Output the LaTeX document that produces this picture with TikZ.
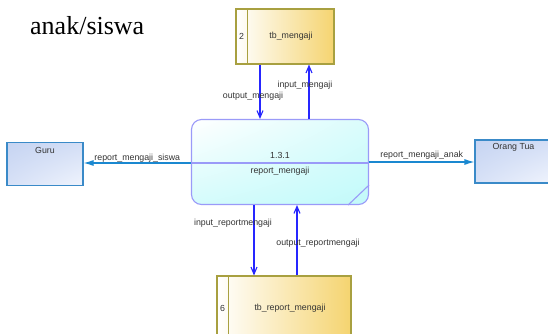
\documentclass[tikz,border=0pt]{standalone}
\usepackage{fontspec}
\setmainfont{Liberation Serif}
\setsansfont{Liberation Sans}
\usepackage{tikz}
\usetikzlibrary{arrows.meta,positioning,calc,shadings}
\definecolor{storeedge}{HTML}{A8A040}
\definecolor{storefill}{HTML}{F5D470}
\definecolor{procedge}{HTML}{9A9AF8}
\definecolor{procfill}{HTML}{C2FAFA}
\definecolor{entedge}{HTML}{3A8AC8}
\definecolor{entfillA}{HTML}{C6D4F2}
\definecolor{entfillB}{HTML}{F0F4FD}
\definecolor{flowblue}{HTML}{2626FF}
\definecolor{reportblue}{HTML}{1A88D0}
\definecolor{txtgray}{HTML}{333333}

\begin{document}
\begin{tikzpicture}[x=1pt,y=-1pt]
        \tikzset{Store/.style={draw=storeedge, line width=1.1pt, left color=white, right color=storefill, inner sep=0pt}}
        \tikzset{Entity/.style={draw=entedge, line width=1.1pt, upper left=entfillA, upper right=entfillA!70!entfillB, lower left=entfillA!60!entfillB, lower right=entfillB, inner sep=0pt, minimum height=43pt}}
        \tikzset{Process/.style={draw=procedge, line width=1.1pt, rounded corners=10pt, upper left=white, upper right=procfill!60!white, lower left=procfill!70!white, lower right=procfill, minimum width=177pt, minimum height=85pt, inner sep=0pt}}
        \tikzset{Lbl/.style={font=\sffamily\fontsize{8.8}{10}\selectfont, text=txtgray, inner sep=1pt}}
        \tikzset{Flow/.style={-{Straight Barb[length=7pt,width=6pt]}, color=flowblue, line width=1.1pt}}
        \tikzset{Report/.style={-{Latex[length=10pt,width=6pt]}, color=reportblue, line width=1.1pt}}

        \useasboundingbox (0,0) rectangle (548,333);

        \node[anchor=base west, inner sep=0pt, font=\fontsize{26}{30}\selectfont](T01) at (30,34) {anak/siswa};

        \node[Store, minimum width=98pt, minimum height=55pt](DS02) at (285,36.5) {};
        \node[Store, minimum width=134pt, minimum height=64pt](DS06) at (284,308) {};
        \node[Process](P131) at (280,162) {};
        \node[Entity, minimum width=76pt](EGuru) at (45,164) {};
        \node[Entity, minimum width=77pt](EOrtu) at (513.5,161.5) {};

        % data stores
        \draw[storeedge, line width=1.1pt] ($(DS02.north west)+(12,0)$) -- ($(DS02.south west)+(12,0)$);
        \node[Lbl](DS02num) at ($(DS02.west)+(6,0)$) {2};
        \node[Lbl](DS02name) at ($(DS02.center)+(6,0)$) {tb\_mengaji};
        \draw[storeedge, line width=1.1pt] ($(DS06.north west)+(12,0)$) -- ($(DS06.south west)+(12,0)$);
        \node[Lbl](DS06num) at ($(DS06.west)+(6,0)$) {6};
        \node[Lbl](DS06name) at ($(DS06.center)+(6,0)$) {tb\_report\_mengaji};

        % process
        \draw[procedge, line width=1.1pt] (P131.west |- 0,163) -- (P131.east |- 0,163);
        \draw[procedge, line width=1.1pt] ($(P131.south east)+(0,-20)$) -- ($(P131.south east)+(-21,0)$);
        \node[Lbl](P131num) at (280,155) {1.3.1};
        \node[Lbl](P131name) at (280,171) {report\_mengaji};

        % external entities
        \node[Lbl, below=4pt of EGuru.north](EGurulbl) {Guru};
        \node[Lbl, below=3pt of EOrtu.north](EOrtulbl) {Orang Tua};

        \path[Flow]
            (DS02.south -| 260,0) edge node[Lbl, pos=0.58, xshift=-7pt]{output\_mengaji} (P131.north -| 260,0)
            (P131.north -| 309,0) edge node[Lbl, pos=0.62, xshift=-4pt]{input\_mengaji} (DS02.south -| 309,0)
            (P131.south -| 254,0) edge node[Lbl, pos=0.26, xshift=-21pt]{input\_reportmengaji} (DS06.north -| 254,0)
            (DS06.north -| 297,0) edge node[Lbl, pos=0.46, xshift=21pt]{output\_reportmengaji} (P131.south -| 297,0)
        ;

        \path[Report]
            (P131.west |- 0,163) edge node[Lbl, pos=0.5, yshift=5pt]{report\_mengaji\_siswa} (EGuru.east |- 0,163)
            (P131.east |- 0,162) edge node[Lbl, pos=0.5, yshift=7pt]{report\_mengaji\_anak} (EOrtu.west |- 0,162)
        ;
\end{tikzpicture}
\end{document}
